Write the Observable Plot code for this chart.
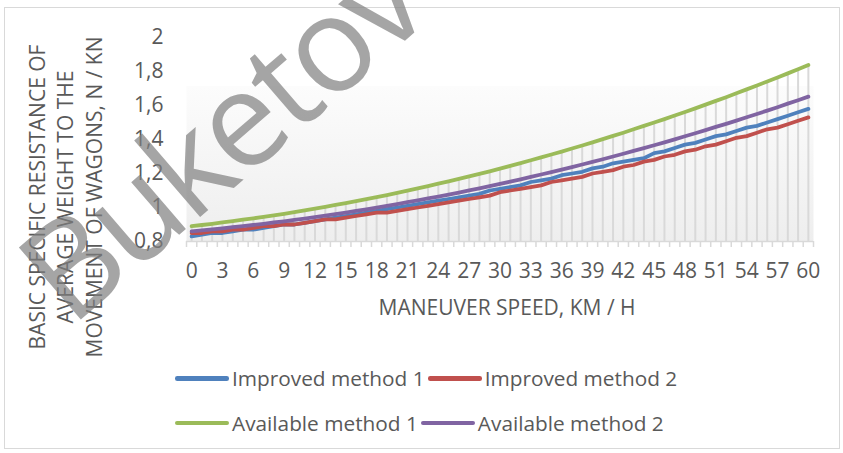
<!DOCTYPE html>
<html>
<head>
<meta charset="utf-8">
<script src="https://cdn.jsdelivr.net/npm/d3@7"></script>
<script src="https://cdn.jsdelivr.net/npm/@observablehq/plot@0.6"></script>
<style>
  html, body { margin: 0; padding: 0; background: #fff; }
  #wrap { position: relative; width: 843px; height: 453px; overflow: hidden; font-family: "Open Sans", sans-serif; }
  #border { position: absolute; left: 4px; top: 7px; width: 836px; height: 442px; border: 1px solid #d9d9d9; box-sizing: border-box; pointer-events: none; }
  #chart { position: absolute; left: 0; top: 0; }
  #legend { position: absolute; left: 175px; top: 356px; color: #595959; font-size: 20.8px; }
  .row { display: flex; align-items: center; height: 44.5px; white-space: nowrap; }
  .sw { display: inline-block; width: 54px; height: 4.5px; border-radius: 2.25px; margin-right: 3px; }
  .lab { margin-right: 3px; }
  #wm { position: absolute; left: 0; top: 0; pointer-events: none; }
</style>
</head>
<body>
<div id="wrap">
  <div id="border"></div>
  <div id="chart"></div>
  <div id="legend"></div>
  <svg id="wm" width="843" height="453"></svg>
</div>
<script>
// ---- data ----
const speeds = [0,1,2,3,4,5,6,7,8,9,10,11,12,13,14,15,16,17,18,19,20,21,22,23,24,25,26,27,28,29,30,
  31,32,33,34,35,36,37,38,39,40,41,42,43,44,45,46,47,48,49,50,51,52,53,54,55,56,57,58,59,60];

const improved1 = [0.83,0.84,0.85,0.85,0.86,0.87,0.87,0.88,0.89,0.90,0.90,0.91,0.92,0.93,0.94,0.95,
  0.96,0.97,0.98,0.99,1.00,1.01,1.02,1.03,1.04,1.05,1.06,1.07,1.08,1.10,1.11,1.12,1.13,1.15,1.16,1.17,
  1.19,1.20,1.21,1.23,1.24,1.26,1.27,1.28,1.29,1.32,1.33,1.35,1.37,1.38,1.40,1.42,1.43,1.45,1.47,1.48,
  1.50,1.52,1.54,1.56,1.58];

const improved2 = [0.85,0.85,0.86,0.86,0.87,0.87,0.88,0.89,0.89,0.90,0.90,0.91,0.92,0.93,0.93,0.94,
  0.95,0.96,0.97,0.97,0.98,0.99,1.00,1.01,1.02,1.03,1.04,1.05,1.06,1.07,1.09,1.10,1.11,1.12,1.13,1.15,
  1.16,1.17,1.18,1.20,1.21,1.22,1.24,1.25,1.27,1.28,1.30,1.31,1.33,1.34,1.36,1.37,1.39,1.41,1.42,1.44,
  1.46,1.47,1.49,1.51,1.53];

const available1 = [0.890,0.897,0.904,0.912,0.920,0.928,0.936,0.945,0.954,0.963,0.973,0.983,0.993,
  1.004,1.015,1.026,1.037,1.049,1.061,1.073,1.086,1.099,1.112,1.126,1.140,1.154,1.168,1.183,1.198,
  1.213,1.229,1.245,1.261,1.278,1.295,1.312,1.329,1.347,1.365,1.383,1.402,1.421,1.440,1.460,1.480,
  1.500,1.520,1.541,1.562,1.583,1.605,1.627,1.649,1.672,1.695,1.718,1.741,1.765,1.789,1.813,1.838];

const available2 = [0.860,0.866,0.871,0.877,0.884,0.890,0.897,0.904,0.912,0.919,0.927,0.935,0.944,
  0.952,0.961,0.970,0.980,0.989,0.999,1.010,1.020,1.031,1.042,1.053,1.064,1.076,1.088,1.101,1.113,
  1.126,1.139,1.152,1.166,1.180,1.194,1.208,1.223,1.238,1.253,1.268,1.284,1.300,1.316,1.333,1.349,
  1.366,1.383,1.401,1.419,1.437,1.455,1.474,1.492,1.511,1.531,1.550,1.570,1.590,1.611,1.631,1.652];

const seriesNames = ["Improved method 1", "Improved method 2", "Available method 1", "Available method 2"];
const seriesColors = ["#4F81BD", "#C0504D", "#9BBB59", "#8064A2"];
const xTickLabels = [0,3,6,9,12,15,18,21,24,27,30,33,36,39,42,45,48,51,54,57,60];
const yTicks = [0.8, 1, 1.2, 1.4, 1.6, 1.8, 2];
const xTitle = "MANEUVER SPEED, KM / H";
const yTitle = "BASIC SPECIFIC RESISTANCE OF\nAVERAGE WEIGHT TO THE\nMOVEMENT OF WAGONS, N / KN";
const watermark = "Buketov";

// ---- build ----
const seriesValues = [improved1, improved2, available1, available2];
const rowsFor = (vals) => speeds.map((s, i) => ({speed: s, value: vals[i]}));
const boundaries = d3.range(speeds.length + 1).map(i => speeds[0] - 0.5 + i);
const fmtY = d => d.toFixed(1).replace(/\.0$/, "").replace(".", ",");
const textColor = "#595959";
const gridColor = "#d9d9d9";

const svg = Plot.plot({
  width: 843,
  height: 350,
  marginTop: 37,
  marginBottom: 109,
  marginLeft: 186,
  marginRight: 30,
  style: {background: "transparent", fontFamily: "'Open Sans', sans-serif", overflow: "visible"},
  x: {type: "linear", domain: [speeds[0] - 0.5, speeds[speeds.length - 1] + 0.5]},
  y: {domain: [yTicks[0], yTicks[yTicks.length - 1]]},
  marks: [
    Plot.frame({fill: "url(#plotbg)", stroke: "none"}),
    Plot.ruleX(speeds, {x: d => d, y1: yTicks[0], y2: (d, i) => available1[i], stroke: gridColor, strokeWidth: 2}),
    Plot.ruleY([yTicks[0]], {stroke: gridColor, strokeWidth: 1.5}),
    Plot.axisX(boundaries, {tickSize: 6, tickFormat: () => "", stroke: gridColor, strokeWidth: 1.5, label: null}),
    Plot.axisX(xTickLabels, {tickSize: 0, tickPadding: 21.5, fontSize: 21, fill: textColor, label: null, tickFormat: d => String(d)}),
    Plot.axisY(yTicks, {tickSize: 0, tickPadding: 23, fontSize: 21, fill: textColor, label: null, tickFormat: fmtY}),
    ...seriesValues.map((vals, k) => Plot.line(rowsFor(vals), {
      x: "speed", y: "value", stroke: seriesColors[k], strokeWidth: 3.8,
      strokeLinecap: "round", strokeLinejoin: "round"
    })),
    Plot.text([xTitle], {frameAnchor: "bottom", text: d => d, dy: 67, dx: 7, fontSize: 21, fill: textColor, lineAnchor: "middle", textAnchor: "middle"}),
    Plot.text([yTitle], {frameAnchor: "left", text: d => d, rotate: -90, dx: -122.5, dy: 57.5, fontSize: 21, lineHeight: 1.36, fill: textColor, lineAnchor: "middle", textAnchor: "middle"})
  ]
});

// gradient for the plot area
const ns = "http://www.w3.org/2000/svg";
const defs = document.createElementNS(ns, "defs");
defs.innerHTML = `<linearGradient id="plotbg" x1="0" y1="0" x2="0" y2="1">
  <stop offset="0" stop-color="#ffffff"/>
  <stop offset="0.235" stop-color="#ffffff"/>
  <stop offset="0.24" stop-color="#fcfcfc"/>
  <stop offset="1" stop-color="#eeeeee"/>
</linearGradient>`;
svg.insertBefore(defs, svg.firstChild);
document.getElementById("chart").appendChild(svg);

// legend
const legend = document.getElementById("legend");
[[0, 1], [2, 3]].forEach(pair => {
  const row = document.createElement("div");
  row.className = "row";
  pair.forEach(k => {
    const sw = document.createElement("span");
    sw.className = "sw";
    sw.style.background = seriesColors[k];
    const lab = document.createElement("span");
    lab.className = "lab";
    lab.textContent = seriesNames[k];
    row.appendChild(sw);
    row.appendChild(lab);
  });
  legend.appendChild(row);
});

// watermark
const wm = document.getElementById("wm");
const t = document.createElementNS(ns, "text");
t.setAttribute("transform", "translate(71,328) rotate(-40.7)");
t.setAttribute("font-family", "'Open Sans', sans-serif");
t.setAttribute("font-size", "133");
t.setAttribute("fill", "#7f7f7f");
t.setAttribute("fill-opacity", "0.7");
t.setAttribute("textLength", "480");
t.setAttribute("lengthAdjust", "spacing");
t.textContent = watermark;
wm.appendChild(t);
</script>
</body>
</html>
